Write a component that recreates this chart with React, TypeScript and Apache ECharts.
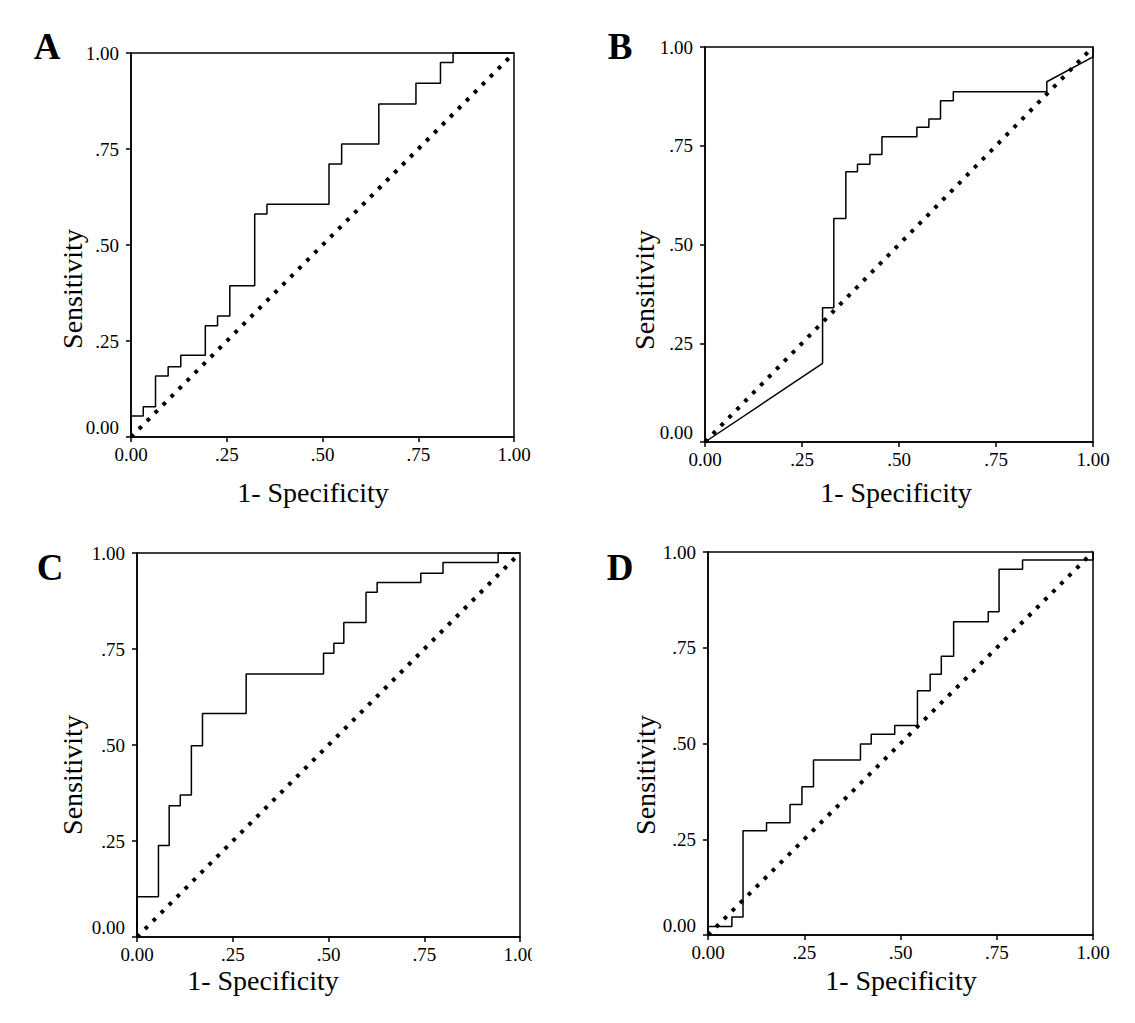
import React, { useEffect, useRef } from "react";
import * as echarts from "echarts";

// Panel A ROC curve (1 - specificity, sensitivity)
const fprA = [0, 0, 0.032, 0.032, 0.064, 0.064, 0.097, 0.097, 0.13, 0.13, 0.194, 0.194, 0.226, 0.226, 0.258, 0.258, 0.323, 0.323, 0.355, 0.355, 0.517, 0.517, 0.55, 0.55, 0.647, 0.647, 0.744, 0.744, 0.808, 0.808, 0.841, 0.841, 1];
const tprA = [0, 0.055, 0.055, 0.079, 0.079, 0.159, 0.159, 0.183, 0.183, 0.213, 0.213, 0.29, 0.29, 0.315, 0.315, 0.394, 0.394, 0.581, 0.581, 0.606, 0.606, 0.711, 0.711, 0.763, 0.763, 0.867, 0.867, 0.921, 0.921, 0.975, 0.975, 1, 1];

// Panel B
const fprB = [0, 0.303, 0.303, 0.332, 0.332, 0.363, 0.363, 0.393, 0.393, 0.425, 0.425, 0.456, 0.456, 0.546, 0.546, 0.577, 0.577, 0.607, 0.607, 0.64, 0.64, 0.881, 0.881, 1, 1];
const tprB = [0, 0.199, 0.34, 0.34, 0.566, 0.566, 0.684, 0.684, 0.703, 0.703, 0.728, 0.728, 0.773, 0.773, 0.797, 0.797, 0.818, 0.818, 0.864, 0.864, 0.887, 0.887, 0.912, 0.975, 1];

// Panel C
const fprC = [0, 0, 0.056, 0.056, 0.084, 0.084, 0.113, 0.113, 0.142, 0.142, 0.171, 0.171, 0.285, 0.285, 0.487, 0.487, 0.514, 0.514, 0.54, 0.54, 0.598, 0.598, 0.627, 0.627, 0.741, 0.741, 0.799, 0.799, 0.943, 0.943, 1];
const tprC = [0, 0.105, 0.105, 0.238, 0.238, 0.342, 0.342, 0.37, 0.37, 0.498, 0.498, 0.582, 0.582, 0.685, 0.685, 0.739, 0.739, 0.765, 0.765, 0.819, 0.819, 0.898, 0.898, 0.923, 0.923, 0.947, 0.947, 0.975, 0.975, 1, 1];

// Panel D
const fprD = [0, 0, 0.062, 0.062, 0.091, 0.091, 0.152, 0.152, 0.213, 0.213, 0.244, 0.244, 0.274, 0.274, 0.396, 0.396, 0.424, 0.424, 0.485, 0.485, 0.544, 0.544, 0.577, 0.577, 0.606, 0.606, 0.638, 0.638, 0.728, 0.728, 0.756, 0.756, 0.817, 0.817, 1, 1];
const tprD = [0, 0.022, 0.022, 0.047, 0.047, 0.272, 0.272, 0.293, 0.293, 0.341, 0.341, 0.387, 0.387, 0.457, 0.457, 0.499, 0.499, 0.524, 0.524, 0.547, 0.547, 0.638, 0.638, 0.681, 0.681, 0.728, 0.728, 0.818, 0.818, 0.844, 0.844, 0.955, 0.955, 0.979, 0.979, 1];

// Reference diagonal
const diagX = [0, 1];
const diagY = [0, 1];

const panelLetters = ["A", "B", "C", "D"];
const tickValues = [0, 0.25, 0.5, 0.75, 1];
const tickLabels = ["0.00", ".25", ".50", ".75", "1.00"];
const xAxisTitle = "1- Specificity";
const yAxisTitle = "Sensitivity";

const SERIF = "'Liberation Serif', 'Times New Roman', serif";

const grids = [
  { left: 131, top: 53, width: 383, height: 384 },
  { left: 705, top: 47, width: 388, height: 395 },
  { left: 137, top: 553, width: 383, height: 384 },
  { left: 708, top: 552, width: 385, height: 383 },
];
const letterPos = [
  [47, 46],
  [620, 46],
  [50, 567],
  [620, 567],
];
const xTitlePos = [
  [313, 492],
  [896, 492],
  [263, 980],
  [901, 980],
];
const yTitlePos = [
  [72, 289],
  [644, 290],
  [72, 775],
  [645, 775],
];

const curves = [
  [fprA, tprA],
  [fprB, tprB],
  [fprC, tprC],
  [fprD, tprD],
];

function labelFor(v: number) {
  const i = tickValues.findIndex((t) => Math.abs(t - v) < 1e-6);
  const s = i >= 0 ? tickLabels[i] : String(v);
  return s;
}

export default function App() {
  const ref = useRef<HTMLDivElement>(null);
  useEffect(() => {
    document.body.style.margin = "0";
    if (!ref.current) return;
    const chart = echarts.init(ref.current, null, { renderer: "svg" });

    const xAxes: any[] = [];
    const yAxes: any[] = [];
    const series: any[] = [];
    const graphics: any[] = [];

    grids.forEach((g, i) => {
      xAxes.push({
        type: "value",
        gridIndex: i,
        min: 0,
        max: 1,
        interval: 0.25,
        axisLine: { show: true, lineStyle: { color: "#000", width: 1.5 } },
        axisTick: { show: true, inside: false, length: 5, lineStyle: { color: "#000", width: 1.5 } },
        splitLine: { show: false },
        axisLabel: {
          color: "#000",
          fontFamily: SERIF,
          fontSize: 19,
          margin: 8,
          formatter: (v: number) => labelFor(v),
        },
      });
      yAxes.push({
        type: "value",
        gridIndex: i,
        min: 0,
        max: 1,
        interval: 0.25,
        axisLine: { show: true, lineStyle: { color: "#000", width: 1.5 } },
        axisTick: { show: true, inside: false, length: 5, lineStyle: { color: "#000", width: 1.5 } },
        splitLine: { show: false },
        axisLabel: {
          color: "#000",
          fontFamily: SERIF,
          fontSize: 19,
          margin: 12,
          formatter: (v: number) => (v === 0 ? "{lift|" + labelFor(v) + "}" : labelFor(v)),
          rich: {
            lift: { fontFamily: SERIF, fontSize: 19, color: "#000", padding: [0, 0, 19, 0] },
          },
        },
      });
      series.push({
        type: "line",
        xAxisIndex: i,
        yAxisIndex: i,
        data: diagX.map((x, k) => [x, diagY[k]]),
        showSymbol: false,
        symbol: "none",
        clip: false,
        lineStyle: { color: "#000", width: 4, type: [3.8, 7.5], cap: "butt" },
        z: 2,
      });
      const [xs, ys] = curves[i];
      series.push({
        type: "line",
        xAxisIndex: i,
        yAxisIndex: i,
        data: xs.map((x, k) => [x, ys[k]]),
        showSymbol: false,
        symbol: "none",
        clip: false,
        lineStyle: { color: "#000", width: 1.5 },
        z: 3,
      });
      graphics.push({
        type: "text",
        x: letterPos[i][0],
        y: letterPos[i][1],
        style: {
          text: panelLetters[i],
          font: `bold 37px ${SERIF}`,
          fill: "#000",
          textAlign: "center",
          textVerticalAlign: "middle",
        },
      });
      graphics.push({
        type: "text",
        x: xTitlePos[i][0],
        y: xTitlePos[i][1],
        style: {
          text: xAxisTitle,
          font: `28px ${SERIF}`,
          fill: "#000",
          textAlign: "center",
          textVerticalAlign: "middle",
        },
      });
      graphics.push({
        type: "text",
        x: yTitlePos[i][0],
        y: yTitlePos[i][1],
        rotation: Math.PI / 2,
        style: {
          text: yAxisTitle,
          font: `28px ${SERIF}`,
          fill: "#000",
          textAlign: "center",
          textVerticalAlign: "middle",
        },
      });
    });

    // the reference image cuts off panel C's last x tick label
    graphics.push({
      type: "rect",
      shape: { x: 532, y: 940, width: 40, height: 30 },
      style: { fill: "#fff" },
      z: 100,
    });

    chart.setOption({
      animation: false,
      backgroundColor: "#fff",
      grid: grids.map((g) => ({
        ...g,
        show: true,
        borderColor: "#000",
        borderWidth: 1.5,
        backgroundColor: "transparent",
        containLabel: false,
      })),
      xAxis: xAxes,
      yAxis: yAxes,
      series,
      graphic: graphics,
    });
    return () => chart.dispose();
  }, []);
  return <div ref={ref} style={{ width: 1135, height: 1023 }} />;
}
